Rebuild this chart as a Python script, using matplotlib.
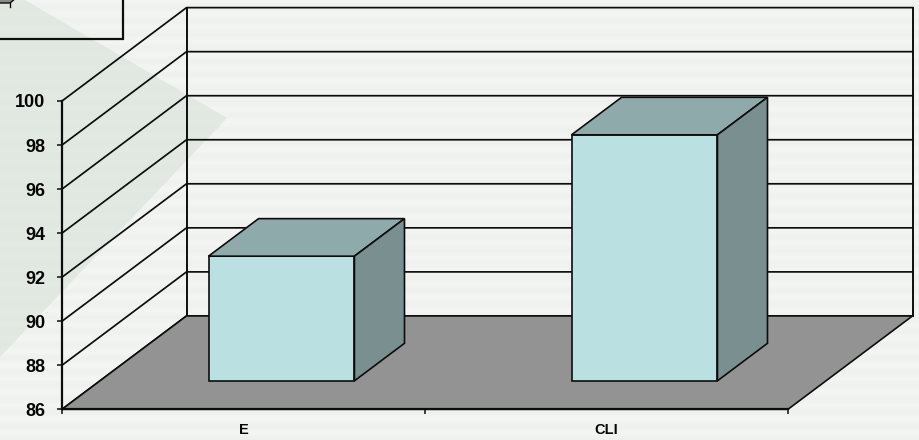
import numpy as np
import matplotlib
matplotlib.use("Agg")
import matplotlib.pyplot as plt
from matplotlib.patches import Polygon, Rectangle

plt.rcParams["font.family"] = ["Liberation Sans", "DejaVu Sans"]

categories = ["E", "CLI"]
values = [91.66, 97.17]
y_ticks = [86, 88, 90, 92, 94, 96, 98, 100]

W, H = 919, 440
Y_MIN, Y_MAX = 86, 100

# oblique depth of the 3D box: full depth shift in category and value units
DEPTH_X = 0.343
DEPTH_Y = 4.24
BAR_WIDTH = 0.402
BAR_FRONT = 0.305
BAR_BACK = 0.707

EDGE = "#0d0d0d"
FLOOR = "#939393"
BAR_FACE = "#bbe0e1"
BAR_TOP = "#8faaab"
BAR_SIDE = "#798f90"


def project(x, v, depth=0.0):
    """Front-plane position of a point pushed back by depth (0 front, 1 back)."""
    return x + depth * DEPTH_X, v + depth * DEPTH_Y


def add_poly(ax, pts, face, lw=1.2, z=2):
    ax.add_patch(Polygon(pts, closed=True, facecolor=face, edgecolor=EDGE,
                         linewidth=lw, clip_on=False, zorder=z, joinstyle="miter"))


fig = plt.figure(figsize=(W / 100, H / 100), dpi=100)

# slide background: faint horizontal bands and the pale green arrow
bg = fig.add_axes([0, 0, 1, 1])
rows = np.arange(H)
band = (242.5 + 1.8 * np.cos(rows * 2 * np.pi / 13.5))[:, None]
texture = np.dstack([band - 1, band + 1, band - 1.5]) / 255.0
bg.imshow(np.repeat(texture, W, axis=1), extent=(0, W, H, 0), aspect="auto", zorder=0)
bg.add_patch(Polygon([(0, 0), (25, 0), (227, 118), (0, 357)], closed=True,
                     facecolor="#d6e2d8", alpha=0.6, edgecolor="none", zorder=1))

# text box cut off by the top left corner
bg.add_patch(Rectangle((-5, -5), 127.5, 44, facecolor="none", edgecolor="#0d0d0d",
                       linewidth=1.6, zorder=2))
bg.add_patch(Polygon([(-2, -2), (16, -2), (10, 3), (-2, 3)], closed=True,
                     facecolor="#8a8a8a", edgecolor="#0d0d0d", linewidth=1, zorder=2))
bg.plot([9.5, 9.5], [3, 7], color="#0d0d0d", lw=1, zorder=2)
bg.set_xlim(0, W)
bg.set_ylim(H, 0)
bg.axis("off")

# chart axes cover the front plane, everything behind it is projected
ax = fig.add_axes([62 / W, 1 - 409.3 / H, 726 / W, 308.3 / H])
ax.patch.set_visible(False)
ax.set_xlim(0, len(categories))
ax.set_ylim(Y_MIN, Y_MAX)

# walls and gridlines
for v in y_ticks:
    pts = [project(0, v), project(0, v, 1), project(len(categories), v, 1)]
    ax.plot(*zip(*pts), color=EDGE, lw=1.25, clip_on=False, zorder=1,
            solid_joinstyle="miter")
for x in (0, len(categories)):
    pts = [project(x, Y_MIN, 1), project(x, Y_MAX, 1)]
    ax.plot(*zip(*pts), color=EDGE, lw=1.4, clip_on=False, zorder=1)

# floor
add_poly(ax, [project(0, Y_MIN), project(len(categories), Y_MIN),
              project(len(categories), Y_MIN, 1), project(0, Y_MIN, 1)], FLOOR, z=1.5)

# bars as three visible faces
for i, val in enumerate(values):
    left = i + 0.5 - BAR_WIDTH / 2
    right = i + 0.5 + BAR_WIDTH / 2
    add_poly(ax, [project(left, Y_MIN, BAR_FRONT), project(right, Y_MIN, BAR_FRONT),
                  project(right, val, BAR_FRONT), project(left, val, BAR_FRONT)], BAR_FACE, z=3)
    add_poly(ax, [project(left, val, BAR_FRONT), project(right, val, BAR_FRONT),
                  project(right, val, BAR_BACK), project(left, val, BAR_BACK)], BAR_TOP, z=3)
    add_poly(ax, [project(right, Y_MIN, BAR_FRONT), project(right, Y_MIN, BAR_BACK),
                  project(right, val, BAR_BACK), project(right, val, BAR_FRONT)], BAR_SIDE, z=3)

for side in ("top", "right"):
    ax.spines[side].set_visible(False)
for side in ("left", "bottom"):
    ax.spines[side].set_linewidth(1.6)
    ax.spines[side].set_color(EDGE)
    ax.spines[side].set_zorder(4)

ax.set_yticks(y_ticks)
ax.set_yticklabels([str(t) for t in y_ticks], fontsize=13, fontweight="bold", color="#050505")
ax.set_xticks(range(len(categories) + 1))
ax.set_xticklabels([])
ax.set_xticks([i + 0.5 for i in range(len(categories))], minor=True)
ax.set_xticklabels(categories, minor=True, fontsize=10.5, fontweight="bold", color="#050505")
ax.tick_params(axis="x", which="minor", length=0, pad=10)
ax.tick_params(axis="both", which="major", length=3.5, width=1.1, color=EDGE)
ax.tick_params(axis="y", pad=8.7)

fig.savefig("out.png", dpi=100)
